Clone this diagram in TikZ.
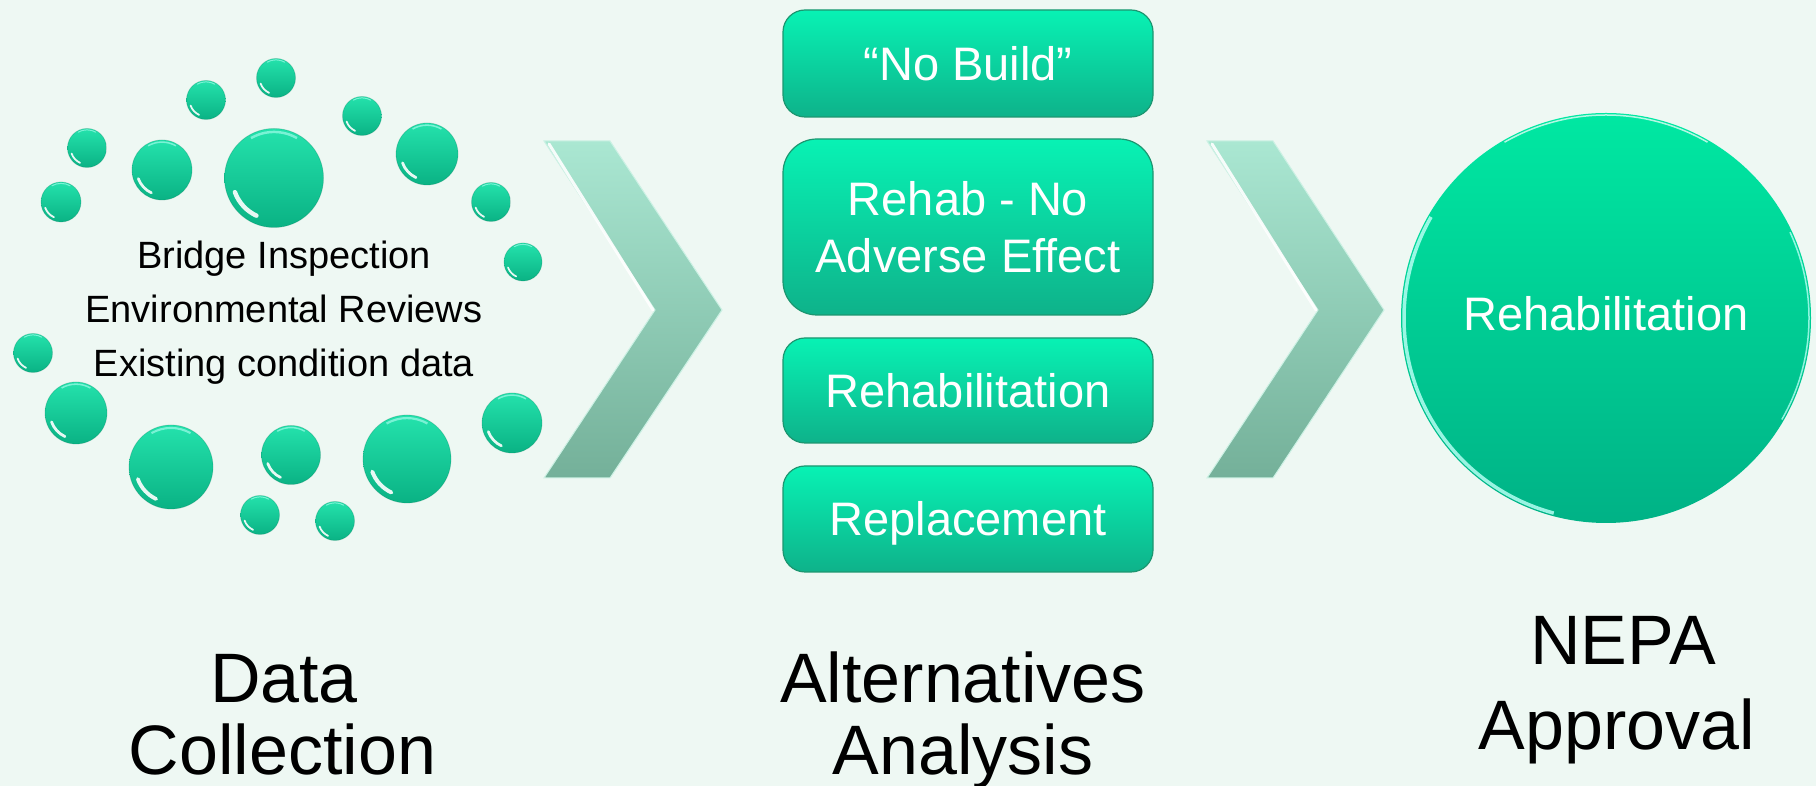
\documentclass[tikz,border=0pt]{standalone}
\usepackage{fontspec}
\setmainfont{Liberation Sans}
\definecolor{bg}{RGB}{238,248,243}
\definecolor{balltop}{RGB}{36,226,172}
\definecolor{ballbot}{RGB}{10,178,132}
\definecolor{boxtop}{RGB}{8,242,180}
\definecolor{boxbot}{RGB}{14,178,138}
\definecolor{boxedge}{RGB}{28,150,112}
\definecolor{circtop}{RGB}{0,232,162}
\definecolor{circbot}{RGB}{0,178,134}
\definecolor{chevtop}{RGB}{170,231,210}
\definecolor{chevbot}{RGB}{116,176,153}
\definecolor{rim}{RGB}{180,255,242}
\begin{document}
\begin{tikzpicture}[x=1pt,y=1pt,
  altbox/.style={rectangle, rounded corners=22pt, top color=boxtop, bottom color=boxbot,
    draw=boxedge, line width=1.2pt, minimum width=370pt, text=white, inner sep=0pt,
    font=\fontsize{47}{56.7}\selectfont},
  oneline/.style={text height=33.6pt, text depth=0pt},
  lab/.style={anchor=base, inner sep=0pt, text=black, font=\fontsize{70}{72}\selectfont},
  chev/.style={top color=chevtop, bottom color=chevbot, draw=chevtop!60!white, line width=1pt},
  bevel/.style={white, line width=3pt, opacity=0.9, line cap=round}
]
\fill[bg] (0,0) rectangle (1816,786);
\useasboundingbox (0,0) rectangle (1816,786);

% bubbles
\foreach \x/\y/\r in {276/708/19.5, 206/686/19.5, 362/670/19.5, 87/638/19.5,
  162/616/30, 274/608/49.5, 427/632/31, 61/584/20, 491/584/19.5, 523/524/19,
  33/433/19.5, 76/373/31, 512/363/30, 171/319/42, 291/331/29.5, 407/327/44,
  260/271/19.5, 335/265/19.5}{
  \shade[top color=balltop, bottom color=ballbot] (\x,\y) circle (\r);
  \draw[ballbot!70!black, opacity=0.25, line width=0.8pt] (\x,\y) circle (\r);
  \draw[white, opacity=0.9, line width={0.09*\r}, line cap=round]
    (\x,\y) ++({200}:{0.84*\r}) arc[start angle=200, end angle=245, radius={0.84*\r}];
  \draw[rim, opacity=0.6, line width={0.05*\r}]
    (\x,\y) ++({60}:{0.93*\r}) arc[start angle=60, end angle=120, radius={0.93*\r}];
}

\node[inner sep=0pt, anchor=north, align=center, font=\fontsize{38}{54.3}\selectfont]
  (datatext) at (284,545.5) {Bridge Inspection\\Environmental Reviews\\Existing condition data};

% chevrons
\path[chev] (544,645) coordinate (c1a) -- (610,645) -- (722,476) -- (610,308) -- (544,308) -- (655,476) coordinate (c1n) -- cycle;
\draw[bevel] ([shift={(5,-3)}]c1a) -- ([shift={(-2,0)}]c1n);
\path[chev] (1207,645) coordinate (c2a) -- (1273,645) -- (1384,476) -- (1273,308) -- (1207,308) -- (1318,476) coordinate (c2n) -- cycle;
\draw[bevel] ([shift={(5,-3)}]c2a) -- ([shift={(-2,0)}]c2n);

% alternative boxes
\node[altbox, oneline, minimum height=107pt] (nobuild) at (968,722.5) {“No Build”};
\node[altbox, rounded corners=34pt, minimum height=176pt, align=center] (rehabno) at (968,559) {Rehab - No\\Adverse Effect};
\node[altbox, oneline, minimum height=105pt] (rehab) at (968,395.5) {Rehabilitation};
\node[altbox, oneline, minimum height=106pt] (replace) at (968,267) {Replacement};

% result circle
\node[circle, minimum size=410pt, inner sep=0pt, top color=circtop, bottom color=circbot,
  text=white, font=\fontsize{47}{56.7}\selectfont, text height=33.6pt, text depth=8pt]
  (result) at (1606,468) {Rehabilitation};
\draw[rim, line width=3.5pt, opacity=0.85] (result.center) ++(150:202) arc[start angle=150, end angle=255, radius=202];
\draw[white, line width=1.5pt, opacity=0.7] (result.center) ++(60:203) arc[start angle=60, end angle=120, radius=203];
\draw[rim, line width=1.5pt, opacity=0.8] (result.center) ++(-30:203) arc[start angle=-30, end angle=25, radius=203];

% stage labels
\node[lab] (data) at (284,83) {Data};
\node[lab] (collection) at (282.5,11) {Collection};
\node[lab] (alternatives) at (963,83.3) {Alternatives};
\node[lab] (analysis) at (963,11.7) {Analysis};
\node[lab] (nepa) at (1623,121) {NEPA};
\node[lab] (approval) at (1617,36) {Approval};
\end{tikzpicture}
\end{document}
